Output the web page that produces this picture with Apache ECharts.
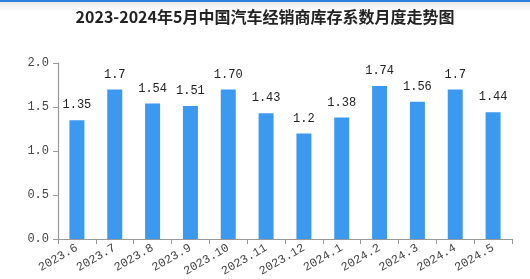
<!DOCTYPE html>
<html><head><meta charset="utf-8">
<script src="https://cdn.jsdelivr.net/npm/echarts@6/dist/echarts.min.js"></script>
<style>html,body{margin:0;padding:0;background:#fff}#c{width:530px;height:279px}</style>
</head><body><div id="c"></div>
<script>
const categories = ["2023.6","2023.7","2023.8","2023.9","2023.10","2023.11","2023.12","2024.1","2024.2","2024.3","2024.4","2024.5"];
const values = [1.35,1.7,1.54,1.51,1.70,1.43,1.2,1.38,1.74,1.56,1.7,1.44];
const valueLabels = ["1.35","1.7","1.54","1.51","1.70","1.43","1.2","1.38","1.74","1.56","1.7","1.44"];
const yTicks = ["0.0","0.5","1.0","1.5","2.0"];
const title = "2023-2024年5月中国汽车经销商库存系数月度走势图";

const chart = echarts.init(document.getElementById('c'), null, {renderer:'canvas'});
chart.setOption({
  animation:false,
  backgroundColor:'#fff',
  graphic:[
    {type:'rect', left:0, top:0, shape:{width:530,height:12}, style:{fill:new echarts.graphic.LinearGradient(0,0,0,1,[{offset:0,color:'#e6e6e6'},{offset:1,color:'#ffffff'}])}, z:-1},
    {type:'rect', left:0, top:0, shape:{width:530,height:2}, style:{fill:'#2b7fdc'}}
  ],
  title:{text:title,left:'center',top:4,textStyle:{fontFamily:'Noto Sans CJK SC',fontWeight:'bold',fontSize:16,color:'#222'}},
  grid:{left:58,right:18,top:63,bottom:40},
  xAxis:{type:'category',data:categories,
    axisLine:{lineStyle:{color:'#999',width:1.2}},
    axisTick:{show:true,alignWithLabel:false,lineStyle:{color:'#999'},length:5},
    axisLabel:{rotate:30,fontFamily:'Liberation Mono',fontSize:12,color:'#444',margin:8,interval:0}},
  yAxis:{type:'value',min:0,max:2,interval:0.5,
    axisLine:{show:true,lineStyle:{color:'#999',width:1.2}},
    axisTick:{show:true,inside:false,length:5,lineStyle:{color:'#999'}},
    splitLine:{show:false},
    axisLabel:{fontFamily:'Liberation Mono',fontSize:12,color:'#444',margin:9,formatter:(v)=>yTicks[Math.round(v/0.5)]}},
  series:[{type:'bar',data:values,barWidth:15,
    itemStyle:{color:'#3b99f0'},
    label:{show:true,position:'top',distance:9,fontFamily:'Liberation Mono',fontSize:12,color:'#222',
      formatter:p=>valueLabels[p.dataIndex]}}]
});
</script></body></html>
